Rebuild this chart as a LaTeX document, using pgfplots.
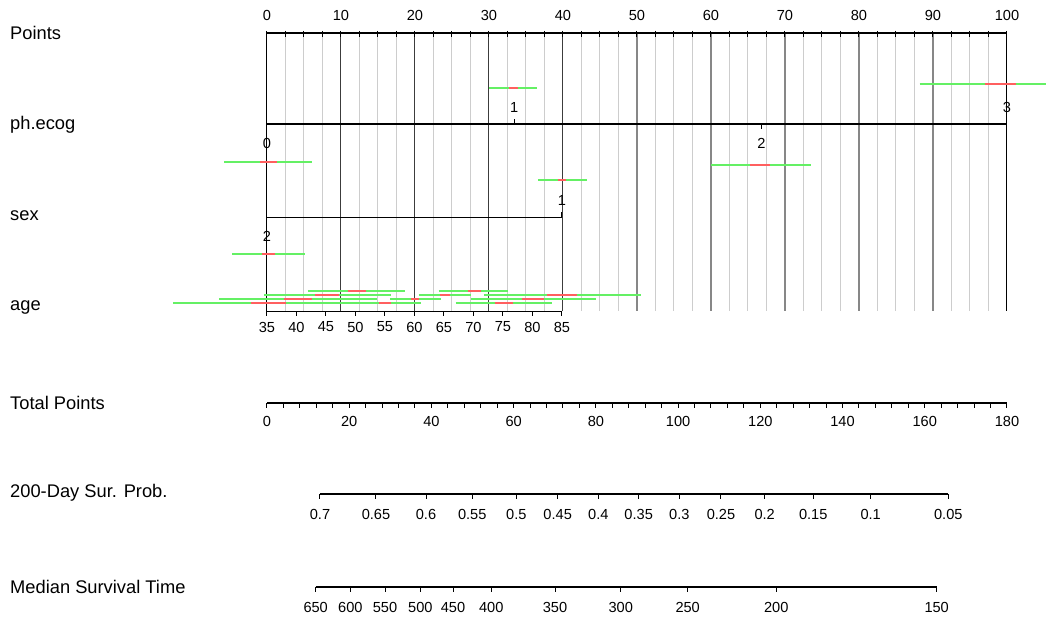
\documentclass[border=0pt]{standalone}
\usepackage{pgfplots}
\pgfplotsset{compat=1.18}
\usepackage{fontspec}
\setmainfont{Liberation Sans}
\definecolor{cigreen}{RGB}{100,240,100}
\definecolor{cired}{RGB}{255,95,95}
\definecolor{minorgrid}{RGB}{205,205,205}
\definecolor{majgridA}{RGB}{60,60,60}
\definecolor{majgridB}{RGB}{135,135,135}
\newcommand\labfont{\fontsize{18.3}{21}\selectfont}
\newcommand\tickfont{\fontsize{14.6}{17}\selectfont}
% tick + label helpers: position/label
\def\problab#1/#2\relax{\addplot[black,line width=1pt] coordinates {(#1,494)(#1,499)};
  \node[font=\tickfont] at (axis cs:#1,514) {#2};}
\def\medlab#1/#2\relax{\addplot[black,line width=1pt] coordinates {(#1,587)(#1,592)};
  \node[font=\tickfont] at (axis cs:#1,607) {#2};}
\begin{document}
\begin{tikzpicture}
\begin{axis}[
  width=1059pt, height=628pt, scale only axis,
  xmin=-36.08, xmax=107.03, ymin=0, ymax=628, y dir=reverse,
  hide axis, clip=false,
]
\path (axis cs:-36.08,0) rectangle (axis cs:107.03,628);
% ---- vertical grid lines ----
\pgfplotsinvokeforeach{2.5,5,7.5,12.5,15,17.5,22.5,25,27.5,32.5,35,37.5,42.5,45,47.5,52.5,55,57.5,62.5,65,67.5,72.5,75,77.5,82.5,85,87.5,92.5,95,97.5}{
  \addplot[minorgrid, line width=1pt] coordinates {(#1,33)(#1,311)};}
\pgfplotsinvokeforeach{10,20,30,40}{
  \addplot[majgridA, line width=1pt] coordinates {(#1,33)(#1,311)};}
\pgfplotsinvokeforeach{50,60,70,80,90}{
  \addplot[majgridB, line width=1.5pt] coordinates {(#1,33)(#1,311)};}
\pgfplotsinvokeforeach{0,100}{
  \addplot[black, line width=1pt] coordinates {(#1,33)(#1,311)};}
% ---- Points scale ----
\addplot[black, line width=1.3pt] coordinates {(0,33)(100,33)};
\pgfplotsinvokeforeach{0,2.5,5,7.5,10,12.5,15,17.5,20,22.5,25,27.5,30,32.5,35,37.5,40,42.5,45,47.5,50,52.5,55,57.5,60,62.5,65,67.5,70,72.5,75,77.5,80,82.5,85,87.5,90,92.5,95,97.5,100}{
  \addplot[black, line width=1pt] coordinates {(#1,31)(#1,37)};}
\pgfplotsinvokeforeach{0,10,20,30,40,50,60,70,80,90,100}{
  \node[font=\tickfont] at (axis cs:#1,15) {#1};}
% ---- ph.ecog scale ----
\addplot[black, line width=1.6pt] coordinates {(0,124)(100,124)};
\addplot[black, line width=1pt] coordinates {(33.4,119)(33.4,124)};
\addplot[black, line width=1pt] coordinates {(100,119)(100,124)};
\addplot[black, line width=1pt] coordinates {(0,124)(0,129)};
\addplot[black, line width=1pt] coordinates {(66.8,124)(66.8,129)};
\node[font=\tickfont] at (axis cs:33.4,107) {1};
\node[font=\tickfont] at (axis cs:100,107) {3};
\node[font=\tickfont] at (axis cs:0,143) {0};
\node[font=\tickfont] at (axis cs:66.8,143) {2};
% ---- sex scale ----
\addplot[black, line width=1pt] coordinates {(0,217)(39.86,217)};
\addplot[black, line width=1pt] coordinates {(39.86,212)(39.86,217)};
\addplot[black, line width=1pt] coordinates {(0,217)(0,222)};
\node[font=\tickfont] at (axis cs:39.86,200) {1};
\node[font=\tickfont] at (axis cs:0,236) {2};
% ---- age scale ----
\addplot[black, line width=1pt] coordinates {(0,311)(39.86,311)};
\pgfplotsinvokeforeach{35,40,45,50,55,60,65,70,75,80,85}{
  \addplot[black, line width=1pt] coordinates {({(#1-35)*0.7972},311)({(#1-35)*0.7972},316)};
  \node[font=\tickfont] at (axis cs:{(#1-35)*0.7972},327) {#1};}
% ---- interval segments (green) ----
\addplot[cigreen, line width=2pt] coordinates {(30.0,88)(36.5,88)};
\addplot[cigreen, line width=2pt] coordinates {(88.2,84)(105.3,84)};
\addplot[cigreen, line width=2pt] coordinates {(-5.8,162)(6.1,162)};
\addplot[cigreen, line width=2pt] coordinates {(60.0,165)(73.5,165)};
\addplot[cigreen, line width=2pt] coordinates {(36.6,180)(43.2,180)};
\addplot[cigreen, line width=2pt] coordinates {(-4.7,254)(5.1,254)};
\addplot[cigreen, line width=2pt] coordinates {(5.5,291)(18.6,291)};
\addplot[cigreen, line width=2pt] coordinates {(23.2,291)(32.6,291)};
\addplot[cigreen, line width=2pt] coordinates {(-0.4,295)(16.8,295)};
\addplot[cigreen, line width=2pt] coordinates {(20.5,295)(27.6,295)};
\addplot[cigreen, line width=2pt] coordinates {(29.3,295)(50.5,295)};
\addplot[cigreen, line width=2pt] coordinates {(-6.5,299)(14.9,299)};
\addplot[cigreen, line width=2pt] coordinates {(16.6,299)(23.5,299)};
\addplot[cigreen, line width=2pt] coordinates {(27.6,299)(44.5,299)};
\addplot[cigreen, line width=2pt] coordinates {(-12.7,303)(20.8,303)};
\addplot[cigreen, line width=2pt] coordinates {(25.5,303)(38.5,303)};
% ---- interval segments (red) ----
\addplot[cired, line width=2pt] coordinates {(32.7,88)(33.9,88)};
\addplot[cired, line width=2pt] coordinates {(97.0,84)(101.2,84)};
\addplot[cired, line width=2pt] coordinates {(-0.9,162)(1.4,162)};
\addplot[cired, line width=2pt] coordinates {(65.3,165)(68.0,165)};
\addplot[cired, line width=2pt] coordinates {(39.3,180)(40.4,180)};
\addplot[cired, line width=2pt] coordinates {(-0.7,254)(1.1,254)};
\addplot[cired, line width=2pt] coordinates {(10.9,291)(13.4,291)};
\addplot[cired, line width=2pt] coordinates {(27.2,291)(28.9,291)};
\addplot[cired, line width=2pt] coordinates {(6.5,295)(9.7,295)};
\addplot[cired, line width=2pt] coordinates {(23.4,295)(24.7,295)};
\addplot[cired, line width=2pt] coordinates {(37.9,295)(41.9,295)};
\addplot[cired, line width=2pt] coordinates {(2.3,299)(6.1,299)};
\addplot[cired, line width=2pt] coordinates {(19.5,299)(20.5,299)};
\addplot[cired, line width=2pt] coordinates {(34.5,299)(37.4,299)};
\addplot[cired, line width=2pt] coordinates {(-2.2,303)(2.6,303)};
\addplot[cired, line width=2pt] coordinates {(15.1,303)(16.8,303)};
\addplot[cired, line width=2pt] coordinates {(30.8,303)(33.2,303)};
% ---- Total Points scale ----
\addplot[black, line width=1.3pt] coordinates {(0,403)(100,403)};
\pgfplotsinvokeforeach{0,4,...,180}{
  \addplot[black, line width=1pt] coordinates {({#1/1.8},403)({#1/1.8},408)};}
\pgfplotsinvokeforeach{0,20,...,180}{
  \node[font=\tickfont] at (axis cs:{#1/1.8},421) {#1};}
% ---- 200-Day Sur. Prob. scale ----
\addplot[black, line width=1.3pt] coordinates {(7.16,494)(92.07,494)};
\pgfplotsinvokeforeach{7.16/0.7,14.73/0.65,21.49/0.6,27.74/0.55,33.69/0.5,39.28/0.45,44.77/0.4,50.23/0.35,55.72/0.3,61.35/0.25,67.26/0.2,73.82/0.15,81.58/0.1,92.07/0.05}{\problab#1\relax}
% ---- Median Survival Time scale ----
\addplot[black, line width=1.3pt] coordinates {(6.58,587)(90.50,587)};
\pgfplotsinvokeforeach{6.58/650,11.26/600,15.95/550,20.72/500,25.14/450,30.31/400,38.92/350,47.80/300,56.85/250,68.82/200,90.50/150}{\medlab#1\relax}
% ---- row labels ----
\node[font=\labfont, anchor=west, inner sep=0pt] at (axis cs:-34.73,33) {Points};
\node[font=\labfont, anchor=west, inner sep=0pt] at (axis cs:-34.73,125) {ph.ecog};
\node[font=\labfont, anchor=west, inner sep=0pt] at (axis cs:-34.73,216) {sex};
\node[font=\labfont, anchor=west, inner sep=0pt] at (axis cs:-34.73,307) {age};
\node[font=\labfont, anchor=west, inner sep=0pt] at (axis cs:-34.73,403) {Total Points};
\node[font=\labfont, anchor=west, inner sep=0pt] at (axis cs:-34.73,493) {200-Day Sur. Prob.};
\node[font=\labfont, anchor=west, inner sep=0pt] at (axis cs:-34.73,587) {Median Survival Time};
\end{axis}
\end{tikzpicture}
\end{document}
